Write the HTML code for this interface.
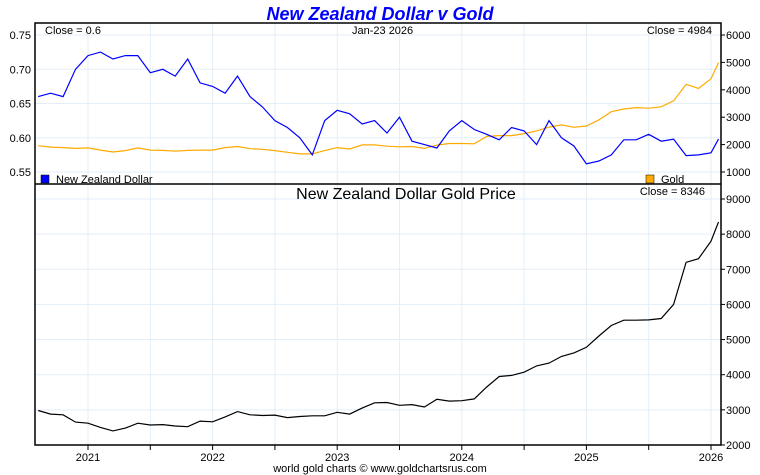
<!DOCTYPE html>
<html><head><meta charset="utf-8"><style>
body{margin:0;background:#fff;}
svg{display:block;font-family:"Liberation Sans",sans-serif;}
</style></head><body>
<svg id="chart" width="760" height="475">
<text x="380" y="20" text-anchor="middle" font-size="18" font-weight="bold" font-style="italic" fill="#0000ff">New Zealand Dollar v Gold</text>
<g id="grid"></g>
<g id="axes"></g>
<g id="series"></g>
<rect x="35" y="23" width="686" height="422" fill="none" stroke="#000" stroke-width="1.5"/>
<line x1="35" y1="184" x2="721" y2="184" stroke="#000" stroke-width="1.5"/>
<text x="45" y="34" font-size="11">Close = 0.6</text>
<text x="352" y="34" font-size="11">Jan-23  2026</text>
<text x="712" y="34" font-size="11" text-anchor="end">Close = 4984</text>
<rect x="41" y="175" width="8" height="8" fill="#0000ff" stroke="#000" stroke-width="0.5"/>
<text x="56" y="183" font-size="11">New Zealand Dollar</text>
<rect x="646" y="175" width="8" height="8" fill="#ffaa00" stroke="#000" stroke-width="0.5"/>
<text x="661" y="183" font-size="11">Gold</text>
<text x="406" y="199" font-size="16" text-anchor="middle">New Zealand Dollar Gold Price</text>
<text x="705" y="195" font-size="11" text-anchor="end">Close = 8346</text>
<text x="380" y="472" font-size="11" text-anchor="middle">world gold charts © www.goldchartsrus.com</text>
</svg>
<script>
const dates=[2020.6,2020.7,2020.8,2020.9,2021.0,2021.1,2021.2,2021.3,2021.4,2021.5,2021.6,2021.7,2021.8,2021.9,2022.0,2022.1,2022.2,2022.3,2022.4,2022.5,2022.6,2022.7,2022.8,2022.9,2023.0,2023.1,2023.2,2023.3,2023.4,2023.5,2023.6,2023.7,2023.8,2023.9,2024.0,2024.1,2024.2,2024.3,2024.4,2024.5,2024.6,2024.7,2024.8,2024.9,2025.0,2025.1,2025.2,2025.3,2025.4,2025.5,2025.6,2025.7,2025.8,2025.9,2026.0,2026.06];
const nzd=[0.66,0.665,0.66,0.70,0.72,0.725,0.715,0.72,0.72,0.695,0.70,0.69,0.715,0.68,0.675,0.665,0.69,0.66,0.645,0.625,0.615,0.60,0.575,0.625,0.64,0.635,0.62,0.625,0.607,0.63,0.595,0.59,0.585,0.61,0.625,0.612,0.605,0.597,0.615,0.61,0.59,0.625,0.60,0.588,0.562,0.566,0.575,0.597,0.597,0.605,0.595,0.598,0.574,0.575,0.578,0.598];
const goldUsd=[1960,1910,1890,1860,1880,1800,1730,1780,1880,1800,1790,1760,1790,1800,1800,1890,1930,1850,1830,1780,1720,1660,1660,1780,1890,1840,1990,1990,1940,1920,1930,1860,1980,2040,2040,2030,2300,2330,2330,2400,2500,2640,2720,2630,2680,2900,3200,3300,3350,3330,3380,3600,4200,4050,4400,4984];
const goldNzd=[2980,2880,2860,2650,2620,2500,2400,2480,2620,2570,2580,2540,2520,2680,2660,2800,2950,2860,2840,2850,2780,2810,2830,2830,2930,2880,3050,3200,3210,3130,3150,3080,3300,3250,3260,3310,3650,3950,3980,4070,4250,4330,4520,4620,4780,5100,5400,5550,5550,5560,5600,6000,7200,7300,7800,8346];
const years=[2021,2022,2023,2024,2025,2026];
const nzdTicks=[0.55,0.60,0.65,0.70,0.75];
const goldTicks=[1000,2000,3000,4000,5000,6000];
const bottomTicks=[2000,3000,4000,5000,6000,7000,8000,9000];

const NS="http://www.w3.org/2000/svg";
const xS=d=>88+(d-2021)*124.6;
const yN=v=>35+(0.75-v)/0.05*34.25;
const yG=v=>35+(6000-v)/1000*27.4;
const yB=v=>199+(9000-v)/1000*35.14;
function mk(tag,attrs,parent){const e=document.createElementNS(NS,tag);for(const k in attrs)e.setAttribute(k,attrs[k]);document.getElementById(parent).appendChild(e);return e;}

years.forEach(y=>{
  [y,y+0.5].forEach(d=>{const x=xS(d);if(x>35&&x<721){
    const g=mk('line',{x1:x,y1:23,x2:x,y2:445,stroke:'#e3eef8','stroke-width':1},'grid');
    
    
    const t=mk('line',{x1:x,y1:445,x2:x,y2:450,stroke:'#000'},'axes');
    
    }});
  const l=mk('text',{x:xS(y),y:461,'font-size':11,'text-anchor':'middle'},'axes');
  l.textContent=y;
  
  
});
nzdTicks.forEach(v=>{const y=yN(v);
  const g=mk('line',{x1:35,y1:y,x2:721,y2:y,stroke:'#e3eef8'},'grid');
  
  
  const t=mk('text',{x:31,y:y+4,'font-size':11,'text-anchor':'end'},'axes');
  t.textContent=v.toFixed(2);
  
  });
goldTicks.forEach(v=>{const y=yG(v);
  const t=mk('text',{x:726,y:y+4,'font-size':11},'axes');
  t.textContent=v;
  
  
  const k=mk('line',{x1:721,y1:y,x2:725,y2:y,stroke:'#000'},'axes');
  
  });
bottomTicks.forEach(v=>{const y=yB(v);
  const g=mk('line',{x1:35,y1:y,x2:721,y2:y,stroke:'#e3eef8'},'grid');
  
  
  const t=mk('text',{x:726,y:y+4,'font-size':11},'axes');
  t.textContent=v;
  
  
  const k=mk('line',{x1:721,y1:y,x2:725,y2:y,stroke:'#000'},'axes');
  
  });

function path(vals,yf){return vals.map((v,i)=>(i?'L':'M')+Math.max(36,xS(dates[i])).toFixed(1)+','+yf(v).toFixed(1)).join(' ');}
const p1=mk('path',{d:path(goldUsd,yG),fill:'none',stroke:'#ffaa00','stroke-width':1.2},'series');


const p2=mk('path',{d:path(nzd,yN),fill:'none',stroke:'#0000ff','stroke-width':1.2},'series');


const p3=mk('path',{d:path(goldNzd,yB),fill:'none',stroke:'#000','stroke-width':1.2},'series');


</script>
</body></html>
